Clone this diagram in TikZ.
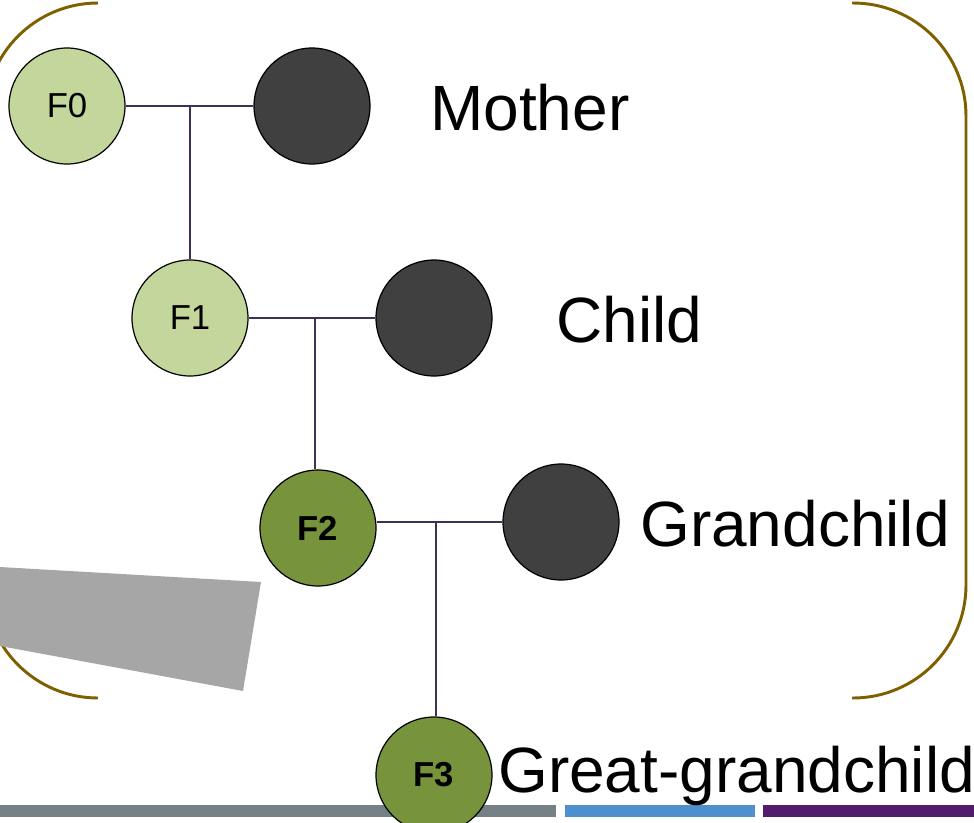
\documentclass[tikz,border=0pt]{standalone}
\usepackage{fontspec}
\setmainfont{Liberation Sans}
\definecolor{bracketc}{RGB}{127,96,0}
\definecolor{linkc}{RGB}{63,49,81}
\definecolor{lightgreen}{RGB}{195,214,155}
\definecolor{olive}{RGB}{119,147,60}
\definecolor{darkdot}{RGB}{64,64,64}
\definecolor{wedgegrey}{RGB}{166,166,166}
\definecolor{barA}{RGB}{117,128,135}
\definecolor{barB}{RGB}{78,143,205}
\definecolor{barC}{RGB}{83,27,107}
\tikzset{
  person/.style={circle, draw=black, line width=0.9pt, minimum size=87pt, inner sep=0pt, font=\fontsize{26}{28}\selectfont},
  early/.style={person, fill=lightgreen},
  late/.style={person, fill=olive, font=\fontsize{26}{28}\selectfont\bfseries},
  mate/.style={person, fill=darkdot},
  link/.style={draw=linkc, line width=2pt},
  bracket/.style={draw=bracketc, line width=2.2pt, rounded corners=84.75pt},
  gen/.style={anchor=base west, inner sep=0pt, font=\fontsize{48}{52}\selectfont}
}
\begin{document}
\begin{tikzpicture}[x=0.75pt, y=-0.75pt]
\useasboundingbox (0,0) rectangle (974,822);

% enclosing brackets
\draw[bracket] (98,3) -- (-15,3) -- (-15,698) -- (98,698);
\draw[bracket] (852,3) -- (966,3) -- (966,698) -- (852,698);

% grey wedge on the left
\fill[wedgegrey] (0,567) -- (261,582) -- (243,691) -- (0,646) -- cycle;

% coloured bars along the bottom
\fill[barA] (0,805) rectangle (556,817);
\fill[barB] (565,805) rectangle (755,817);
\fill[barC] (763,805) rectangle (974,817);

% people
\node[early] (F0) at (67,106) {F0};
\node[mate]  (M0) at (312,106) {};
\node[early] (F1) at (190,318) {F1};
\node[mate]  (M1) at (434,318) {};
\node[late]  (F2) at (318,528) {F2};
\node[mate]  (M2) at (561,522) {};
\node[late]  (F3) at (434,775) {F3};

% couple links and descent lines
\coordinate (j0) at (190,106);
\coordinate (j1) at (315,318);
\coordinate (j2) at (436,522);
\draw[link] (F0.east) -- (M0.west);
\draw[link] (j0) -- (F1.north);
\draw[link] (F1.east) -- (M1.west);
\draw[link] (j1) -- (j1 |- F2.north);
\draw[link] (F2.east |- M2.west) -- (M2.west);
\draw[link] (j2) -- (j2 |- F3.north);

% generation labels
\node[gen] (t0) at (430,130) {Mother};
\node[gen] (t1) at (556,342) {Child};
\node[gen] (t2) at (640,546) {Grandchild};
\node[gen] (t3) at (498,792) {Great-grandchild};
\end{tikzpicture}
\end{document}
